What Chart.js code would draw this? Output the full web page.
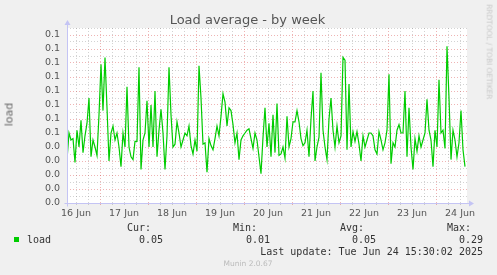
<!DOCTYPE html>
<html>
<head>
<meta charset="utf-8">
<script src="https://cdn.jsdelivr.net/npm/chart.js@4.4.1/dist/chart.umd.min.js"></script>
<style>
  html, body { margin: 0; padding: 0; background: #f0f0f0; }
  #wrap { position: relative; width: 497px; height: 275px; overflow: hidden; }
  #chart { position: absolute; left: 0; top: 0; }
  .t { position: absolute; white-space: pre; line-height: 1; font-family: "DejaVu Sans", sans-serif; color: #555; }
  .m { font-family: "DejaVu Sans Mono", monospace; font-size: 10px; color: #333; }
</style>
</head>
<body>
<div id="wrap">
  <canvas id="chart" width="497" height="275"></canvas>
  <div class="t" id="title" style="left:0;width:495px;text-align:center;top:13px;font-size:13px;">Load average - by week</div>
  <div class="t" style="left:-3px;top:109px;font-size:11px;color:#666;transform:rotate(-90deg);transform-origin:center;width:24px;text-align:center;">load</div>
  <div class="t" style="left:441px;top:48px;font-size:7.4px;color:#c8c8c8;transform:rotate(90deg);transform-origin:center;width:96px;text-align:center;">RRDTOOL / TOBI OETIKER</div>

  <div class="t m" style="left:127px;top:222.5px;">Cur:</div>
  <div class="t m" style="left:233px;top:222.5px;">Min:</div>
  <div class="t m" style="left:340px;top:222.5px;">Avg:</div>
  <div class="t m" style="left:447px;top:222.5px;">Max:</div>

  <div style="position:absolute;left:14px;top:237px;width:5px;height:5px;background:#00cc00;"></div>
  <div class="t m" style="left:27px;top:234.5px;">load</div>
  <div class="t m" style="left:139px;top:234.5px;">0.05</div>
  <div class="t m" style="left:246px;top:234.5px;">0.01</div>
  <div class="t m" style="left:352px;top:234.5px;">0.05</div>
  <div class="t m" style="left:459px;top:234.5px;">0.29</div>

  <div class="t m" style="right:14px;top:246.5px;">Last update: Tue Jun 24 15:30:02 2025</div>
  <div class="t" style="left:0;width:496px;text-align:center;top:260px;font-size:7.5px;color:#bbb;">Munin 2.0.67</div>
</div>

<script>
// hourly load averages, starting Jun 16 07:30
const loadValues = [
  0.031, 0.050, 0.045, 0.046, 0.029, 0.052, 0.040, 0.059, 0.036, 0.048,
  0.057, 0.075, 0.033, 0.045, 0.040, 0.034, 0.063, 0.099, 0.066, 0.104,
  0.068, 0.030, 0.050, 0.055, 0.045, 0.050, 0.040, 0.026, 0.050,
  0.040, 0.083, 0.040, 0.033, 0.031, 0.044, 0.044, 0.097, 0.024, 0.045,
  0.050, 0.073, 0.040, 0.070, 0.040, 0.080, 0.033, 0.052, 0.067, 0.050,
  0.024, 0.048, 0.097, 0.063, 0.040, 0.042, 0.058, 0.050, 0.040, 0.045,
  0.050, 0.048, 0.055, 0.041, 0.035, 0.045, 0.037, 0.098, 0.075, 0.042,
  0.043, 0.022, 0.046, 0.041, 0.038, 0.046, 0.055, 0.048, 0.062, 0.078,
  0.072, 0.055, 0.068, 0.066, 0.056, 0.043, 0.050, 0.031, 0.045, 0.048,
  0.050, 0.052, 0.053, 0.046, 0.039, 0.050, 0.045, 0.033, 0.021, 0.047,
  0.068, 0.040, 0.057, 0.033, 0.063, 0.036, 0.071, 0.034, 0.035, 0.040,
  0.032, 0.062, 0.040, 0.046, 0.058, 0.058, 0.066, 0.058, 0.046, 0.041,
  0.043, 0.052, 0.033, 0.060, 0.080, 0.030, 0.040, 0.047, 0.093, 0.052,
  0.040, 0.031, 0.060, 0.075, 0.052, 0.040, 0.055, 0.043, 0.048, 0.104,
  0.102, 0.038, 0.085, 0.040, 0.051, 0.044, 0.051, 0.042, 0.030, 0.048,
  0.040, 0.045, 0.050, 0.050, 0.048, 0.038, 0.035, 0.051, 0.045, 0.038,
  0.043, 0.052, 0.092, 0.028, 0.043, 0.040, 0.052, 0.056, 0.050, 0.050,
  0.080, 0.033, 0.068, 0.040, 0.024, 0.046, 0.037, 0.048, 0.040, 0.045,
  0.050, 0.074, 0.052, 0.045, 0.026, 0.052, 0.040, 0.088, 0.050, 0.052,
  0.039, 0.112, 0.075, 0.031, 0.052, 0.045, 0.033, 0.043, 0.066, 0.038,
  0.026
];
const dayLabels = ['16 Jun', '17 Jun', '18 Jun', '19 Jun', '20 Jun', '21 Jun', '22 Jun', '23 Jun', '24 Jun'];
const yTickLabels = ['0.0', '0.0', '0.0', '0.0', '0.0', '0.1', '0.1', '0.1', '0.1', '0.1', '0.1', '0.1', '0.1'];

const startHourOfDay = 7.5;   // first sample at 07:30
const spanHours = 200;
const GRID = 'rgba(128,128,128,0.35)';
const MGRID = 'rgba(210,40,40,0.35)';
const AXIS = '#c4c4f4';

// grid every 6 hours, labels at noon, major lines at midnight
const firstGrid = 12 - startHourOfDay - 6;   // 06:00 of the first day
const xGridHours = [];
for (let h = firstGrid; h <= spanHours; h += 6) if (h >= 0) xGridHours.push(h);
const isMidnight = h => ((h + startHourOfDay) % 24) === 0;
const isNoon = h => ((h + startHourOfDay) % 24) === 12;

const yGridValues = [];
for (let k = 0; k <= 25; k++) yGridValues.push(k * 0.005);

const bgPlugin = {
    id: 'bg',
    beforeDraw(chart) {
        const a = chart.chartArea, c = chart.ctx;
        c.save();
        c.fillStyle = '#ffffff';
        c.fillRect(a.left, a.top, a.right - a.left, a.bottom - a.top);
        c.restore();
    }
};

const axisPlugin = {
    id: 'axes',
    afterDraw(chart) {
        const a = chart.chartArea, c = chart.ctx;
        const x0 = Math.round(a.left) + 0.5, y0 = Math.round(a.bottom) + 0.5;
        c.save();
        c.strokeStyle = AXIS;
        c.fillStyle = AXIS;
        c.lineWidth = 1;
        c.beginPath();
        c.moveTo(x0 - 3, y0); c.lineTo(a.right + 2, y0);
        c.moveTo(x0, y0 + 3); c.lineTo(x0, a.top - 3);
        c.stroke();
        c.beginPath();
        c.moveTo(a.right + 2, y0 - 3); c.lineTo(a.right + 7, y0); c.lineTo(a.right + 2, y0 + 3);
        c.closePath(); c.fill();
        c.beginPath();
        c.moveTo(x0 - 3, a.top - 3); c.lineTo(x0, a.top - 8); c.lineTo(x0 + 3, a.top - 3);
        c.closePath(); c.fill();
        c.restore();
    }
};

const ctx = document.getElementById('chart').getContext('2d');
new Chart(ctx, {
    type: 'line',
    data: {
        datasets: [{
            label: 'load',
            data: loadValues.map((v, i) => ({ x: i, y: v })),
            borderColor: '#00cc00',
            borderWidth: 1.2,
            pointRadius: 0,
            tension: 0,
            fill: false
        }]
    },
    options: {
        responsive: false,
        animation: false,
        layout: { padding: { left: 0, top: 28, right: 30, bottom: 0 } },
        plugins: { legend: { display: false }, tooltip: { enabled: false } },
        scales: {
            x: {
                type: 'linear',
                min: 0,
                max: spanHours,
                afterBuildTicks: s => { s.ticks = xGridHours.map(v => ({ value: v })); },
                afterFit: s => { s.height = 72; },
                grid: {
                    color: c => isMidnight(c.tick.value) ? MGRID : GRID,
                    tickColor: c => isMidnight(c.tick.value) ? MGRID : GRID,
                    drawTicks: true,
                    tickLength: 2
                },
                border: { display: false, dash: [1, 2] },
                ticks: {
                    autoSkip: false,
                    maxRotation: 0,
                    padding: 3,
                    color: '#555',
                    font: { family: 'DejaVu Sans', size: 9.5 },
                    callback: v => isNoon(v) ? dayLabels[Math.round((v - (12 - startHourOfDay)) / 24)] : ''
                }
            },
            y: {
                min: 0,
                max: 0.125,
                afterBuildTicks: s => { s.ticks = yGridValues.map(v => ({ value: v })); },
                afterFit: s => { s.width = 67; },
                grid: {
                    color: c => c.index % 2 === 0 ? MGRID : GRID,
                    drawTicks: false
                },
                border: { display: false, dash: [1, 2] },
                ticks: {
                    autoSkip: false,
                    padding: 7,
                    color: '#555',
                    font: { family: 'DejaVu Sans', size: 9.5 },
                    callback: (v, i) => i % 2 === 0 ? yTickLabels[i / 2] : ''
                }
            }
        }
    },
    plugins: [bgPlugin, axisPlugin]
});
</script>
</body>
</html>
